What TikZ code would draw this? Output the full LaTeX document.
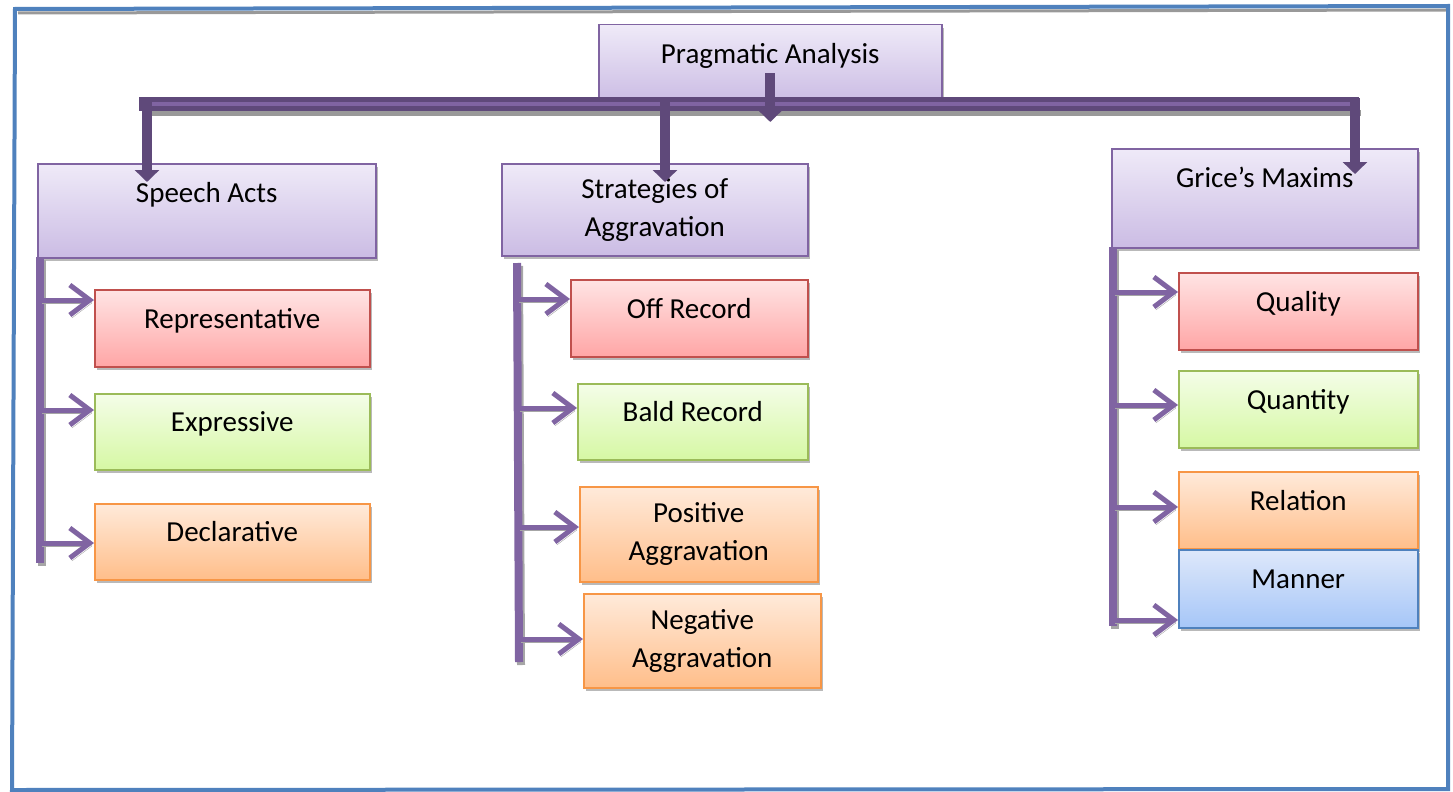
\documentclass[tikz,border=0pt]{standalone}
\usepackage{fontspec}
\setmainfont{Carlito}
\usetikzlibrary{arrows.meta,shadows,calc}
\definecolor{purp}{HTML}{8064A2}
\definecolor{dpurp}{HTML}{5F497A}
\definecolor{frameblue}{HTML}{4F81BD}
\definecolor{pT}{HTML}{EFEAF8}
\definecolor{pB}{HTML}{CBBCE4}
\definecolor{rT}{HTML}{FFE4E4}
\definecolor{rB}{HTML}{FFA6A6}
\definecolor{rD}{HTML}{C0504D}
\definecolor{gT}{HTML}{F4FDE8}
\definecolor{gB}{HTML}{D6F8A4}
\definecolor{gD}{HTML}{9BBB59}
\definecolor{oT}{HTML}{FFEADA}
\definecolor{oB}{HTML}{FFBE8A}
\definecolor{oD}{HTML}{F79646}
\definecolor{bT}{HTML}{DEE8FA}
\definecolor{bB}{HTML}{A6C6F8}
\begin{document}
\begin{tikzpicture}[x=1pt,y=-1pt,
  box/.style={draw, line width=1.5pt, anchor=north west, inner sep=0pt,
    font=\fontsize{29}{38}\selectfont, align=center, text=black,
    drop shadow={shadow xshift=2pt,shadow yshift=-3pt,opacity=0.5,fill=black!55}},
  pbox/.style={box, draw=purp, top color=pT, bottom color=pB},
  rbox/.style={box, draw=rD, top color=rT, bottom color=rB},
  gbox/.style={box, draw=gD, top color=gT, bottom color=gB},
  obox/.style={box, draw=oD, top color=oT, bottom color=oB},
  bbox/.style={box, draw=frameblue, top color=bT, bottom color=bB},
  one/.style={text height=20pt, text depth=20pt},
  vline/.style={purp, line width=8pt,
    preaction={draw=black!35, line width=8pt, transform canvas={xshift=2pt,yshift=-3pt}}},
  sarrow/.style={purp, line width=5pt, -{Straight Barb[length=20pt 0,width=30pt 0,line width=5pt]},
    preaction={draw=black!35, transform canvas={xshift=2pt,yshift=-3pt}}},
  drop/.style={dpurp, line width=10pt, -{Triangle[length=12pt 0,width=24pt 0]}},
  frame/.style={frameblue, line width=4pt, line join=miter}
]
\useasboundingbox (0,0) rectangle (1453,792);

% frame
\draw[black!40, line width=3pt] (18,13) -- (1446,10);
\draw[frame] (15,9) -- (1448,6) -- (1448,789) -- (12,790) -- cycle;

% top box
\node[pbox, one, minimum width=343pt, minimum height=78pt] (pa) at (598,24) {Pragmatic Analysis};

% second level
\node[pbox, text height=20pt, text depth=36pt, minimum width=338pt, minimum height=94pt] (sa) at (37,163) {Speech Acts};
\node[pbox, minimum width=306pt, minimum height=92pt] (sag) at (501,163) {Strategies of\\Aggravation};
\node[pbox, text height=20pt, text depth=41pt, minimum width=306pt, minimum height=99pt] (gm) at (1111,148) {Grice’s Maxims};

% bar
\coordinate (barL) at (139,104);
\coordinate (barR) at (1359,104);
\draw[black!40, line width=6pt] ($(barL)+(4,9)$) -- ($(barR)+(2,9)$);
\draw[dpurp, line width=14pt] (barL) -- (barR);
\draw[purp, line width=4pt] ($(barL)+(6,0)$) -- ($(barR)+(-4,0)$);

% drops
\draw[drop] (pa.center |- 0,73) -- (pa.center |- 0,122);
\draw[drop] (147,98) -- (sa.north -| 147,0) -- (147,182);
\draw[drop] (665,98) -- (665,182);
\draw[drop] (1355,98) -- (1355,174);

% children
\node[rbox, one, minimum width=275pt, minimum height=77pt] (rep) at (94,289) {Representative};
\node[gbox, one, minimum width=275pt, minimum height=76pt] (exp) at (94,393) {Expressive};
\node[obox, one, minimum width=275pt, minimum height=76pt] (dec) at (94,503) {Declarative};

\node[rbox, one, minimum width=237pt, minimum height=77pt] (off) at (570,279) {Off Record};
\node[gbox, one, minimum width=230pt, minimum height=76pt] (bald) at (577,383) {Bald Record};
\node[obox, minimum width=238pt, minimum height=95pt] (pos) at (579,486) {Positive\\Aggravation};
\node[obox, minimum width=237pt, minimum height=94pt] (neg) at (583,593) {Negative\\Aggravation};

\node[rbox, one, minimum width=239pt, minimum height=77pt] (qual) at (1178,272) {Quality};
\node[gbox, one, minimum width=239pt, minimum height=77pt] (quan) at (1178,370) {Quantity};
\node[obox, one, minimum width=239pt, minimum height=77pt] (rel) at (1178,471) {Relation};
\node[bbox, one, minimum width=239pt, minimum height=78pt] (man) at (1178,549) {Manner};

% left column
\coordinate (v1a) at (40,257);
\coordinate (v1b) at (40,563);
\draw[vline] (v1a) -- (v1b);
\draw[sarrow] (v1a |- 0,300) -- (rep.west |- 0,300);
\draw[sarrow] (v1a |- 0,410) -- (exp.west |- 0,410);
\draw[sarrow] (v1a |- 0,543) -- (dec.west |- 0,543);

% middle column
\coordinate (v2a) at (517,263);
\coordinate (v2b) at (519,662);
\draw[vline] (v2a) -- (v2b);
\draw[sarrow] (517,299) -- (off.west |- 0,299);
\draw[sarrow] (518,408) -- (bald.west |- 0,408);
\draw[sarrow] (518,527) -- (pos.west |- 0,527);
\draw[sarrow] (519,639) -- (neg.west |- 0,639);

% right column
\coordinate (v3a) at (1113,247);
\coordinate (v3b) at (1113,626);
\draw[vline] (v3a) -- (v3b);
\draw[sarrow] (v3a |- 0,292) -- (qual.west |- 0,292);
\draw[sarrow] (v3a |- 0,405) -- (quan.west |- 0,405);
\draw[sarrow] (v3a |- 0,507) -- (rel.west |- 0,507);
\draw[sarrow] (v3a |- 0,620) -- (man.west |- 0,620);
\end{tikzpicture}
\end{document}
